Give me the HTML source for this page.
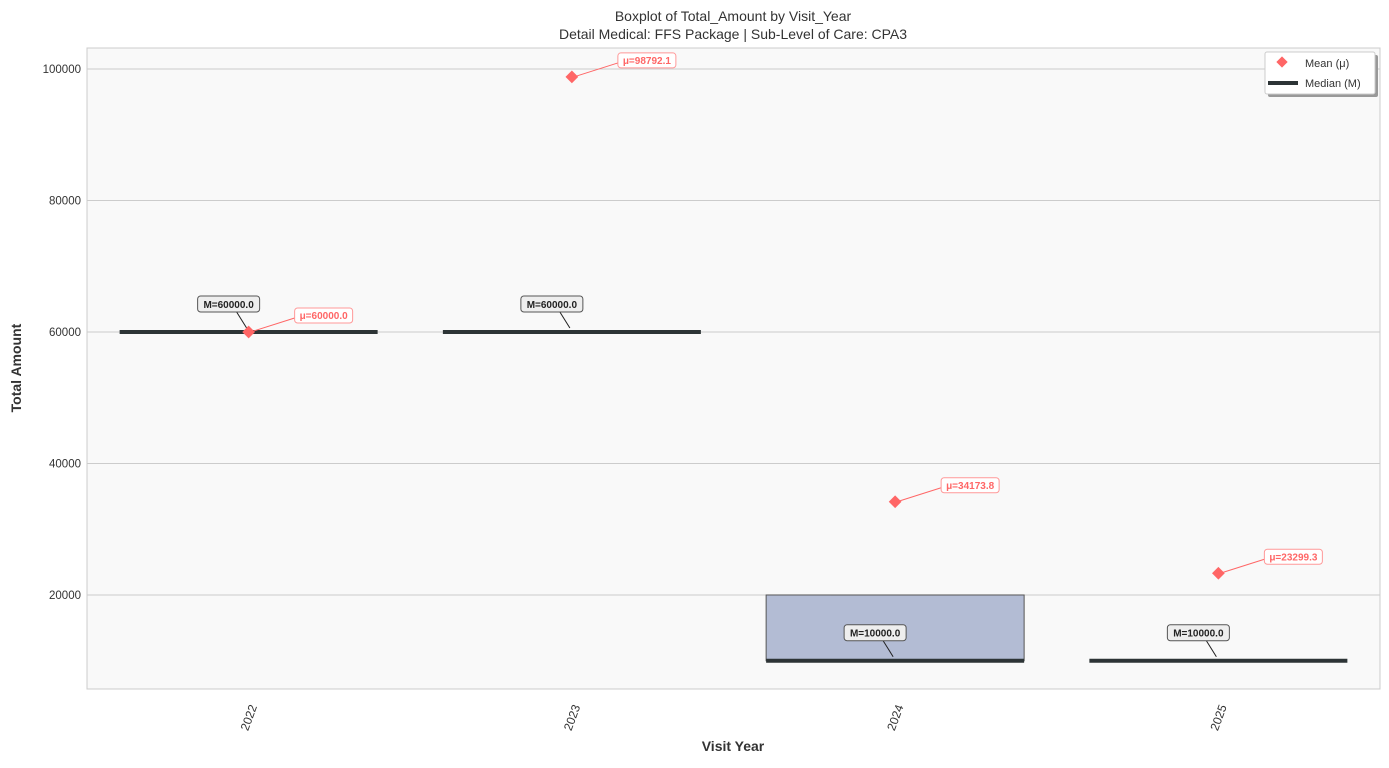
<!DOCTYPE html>
<html><head><meta charset="utf-8"><style>
body{margin:0;background:#fff;font-family:"Liberation Sans","DejaVu Sans",sans-serif}
svg text{font-family:"Liberation Sans","DejaVu Sans",sans-serif}
</style></head><body>
<svg id="chart" width="1389" height="763" xmlns="http://www.w3.org/2000/svg">
<rect width="1389" height="763" fill="#fff"/>
<rect x="87" y="48" width="1293" height="641" fill="#f9f9f9" stroke="#ccc"/>
<g id="grid"></g>
<g id="marks"></g>
<text x="733" y="21" text-anchor="middle" font-size="14" fill="#333">Boxplot of Total_Amount by Visit_Year</text>
<text x="733" y="39" text-anchor="middle" font-size="14" fill="#333">Detail Medical: FFS Package | Sub-Level of Care: CPA3</text>
<text x="733" y="751" text-anchor="middle" font-size="14" font-weight="bold" fill="#333">Visit Year</text>
<text transform="translate(21,368) rotate(-90)" text-anchor="middle" font-size="14" font-weight="bold" fill="#333">Total Amount</text>
<g>
<rect x="1268" y="55" width="110" height="42" fill="#999" rx="2"/>
<rect x="1265" y="52" width="110" height="42" fill="#fff" stroke="#ccc" rx="2"/>
<rect x="1278" y="58" width="8" height="8" fill="#ff6666" transform="rotate(45 1282 62)"/>
<text x="1305" y="67" font-size="11" fill="#333">Mean (μ)</text>
<line x1="1268" y1="83" x2="1298" y2="83" stroke="#2d3436" stroke-width="4"/>
<text x="1305" y="87" font-size="11" fill="#333">Median (M)</text>
</g>
</svg>
<script>
const years=["2022","2023","2024","2025"];
const q1=[60000,60000,10000,10000];
const q3=[60000,60000,20000,10000];
const medians=[60000,60000,10000,10000];
const means=[60000,98792.1,34173.8,23299.3];
const yTicks=[20000,40000,60000,80000,100000];
const NS="http://www.w3.org/2000/svg";
const X0=87,X1=1380,Y0=48,Y1=689;
const yMin=5700,yMax=103190;
const ys=v=>Y1-(v-yMin)/(yMax-yMin)*(Y1-Y0);
const step=(X1-X0)/years.length;
const xs=i=>X0+step*(i+0.5);
function el(t,a,p){const e=document.createElementNS(NS,t);for(const k in a)e.setAttribute(k,a[k]);p.appendChild(e);return e;}
const grid=document.getElementById('grid'),marks=document.getElementById('marks'),svg=document.getElementById('chart');
yTicks.forEach(v=>{
 const l=el('line',{x1:X0,x2:X1,y1:ys(v),y2:ys(v),stroke:'#ccc'},grid);
 
 
 const t=el('text',{x:X0-6,y:ys(v)+4,'text-anchor':'end','font-size':11.5,fill:'#333'},svg);
 t.textContent=v;
 
 
});
const bw=258;
years.forEach((y,i)=>{
 const cx=xs(i);
 const g=el('g',{},marks);
 
 
 if(q3[i]>q1[i]){
  el('rect',{x:cx-bw/2,y:ys(q3[i]),width:bw,height:ys(q1[i])-ys(q3[i]),fill:'#b3bcd4',stroke:'#555'},g);
  el('line',{x1:cx-bw/4,x2:cx+bw/4,y1:ys(q3[i]),y2:ys(q3[i]),stroke:'#555'},g);
 }
 el('line',{x1:cx-bw/2,x2:cx+bw/2,y1:ys(medians[i]),y2:ys(medians[i]),stroke:'#2d3436','stroke-width':4},g);
 const t=el('text',{transform:`translate(${cx+4},${ys(yMin)+30}) rotate(-70)`,'font-size':12,fill:'#333','text-anchor':'middle'},svg);
 t.textContent=y;
 
 
 const my=ys(medians[i]);
 const ma=el('g',{},svg);
 
 
 el('line',{x1:cx-12,y1:my-20,x2:cx-2,y2:my-4,stroke:'#222','stroke-width':1},ma);
 el('rect',{x:cx-51,y:my-36,width:62,height:16,rx:3,fill:'#eee',stroke:'#555'},ma);
 const mt=el('text',{x:cx-20,y:my-24,'text-anchor':'middle','font-size':10,'font-weight':'bold',fill:'#222'},ma);
 mt.textContent='M='+medians[i].toFixed(1);
 const mY=ys(means[i]);
 const d=el('rect',{x:cx-4.5,y:mY-4.5,width:9,height:9,fill:'#ff6666',transform:`rotate(45 ${cx} ${mY})`},svg);
 
 
 const a=el('g',{},svg);
 
 
 el('line',{x1:cx+46,y1:mY-14,x2:cx+5,y2:mY-1,stroke:'#ff6666'},a);
 el('rect',{x:cx+46,y:mY-24,width:58,height:15,rx:3,fill:'#fff',stroke:'#ff9999'},a);
 const at=el('text',{x:cx+75,y:mY-13,'text-anchor':'middle','font-size':10,'font-weight':'bold',fill:'#ff6666'},a);
 at.textContent='μ='+means[i].toFixed(1);
});
</script>
</body></html>
